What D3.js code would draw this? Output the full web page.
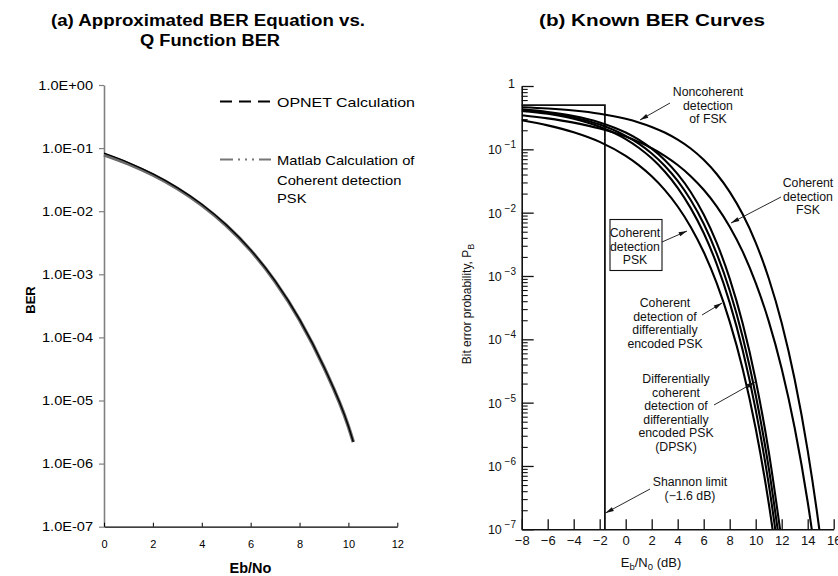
<!DOCTYPE html>
<html>
<head>
<meta charset="utf-8">
<script src="https://cdn.jsdelivr.net/npm/d3@7"></script>
<style>
  body { margin: 0; background: #fff; }
  svg { display: block; font-family: "Liberation Sans", Arial, Helvetica, sans-serif; }
</style>
</head>
<body>
<svg id="chart" width="838" height="576"></svg>
<script>
// ---------- Panel (a): approximated equation vs. Q function ----------
const ebNoA      = [0, 1, 2, 3, 4, 5, 6, 7, 8, 9, 10, 10.2];
const berOpnet   = [0.083, 0.059, 0.039, 0.0237, 0.0129, 0.0061, 0.00244, 7.85e-4, 1.93e-4, 3.4e-5, 3.9e-6, 2.2e-6];
const berMatlab  = [0.0786, 0.0563, 0.0375, 0.0229, 0.0125, 0.00595, 0.00239, 7.7e-4, 1.9e-4, 3.36e-5, 3.87e-6, 2.2e-6];
const xTicksA    = [0, 2, 4, 6, 8, 10, 12];
const yTicksA    = [1, 1e-1, 1e-2, 1e-3, 1e-4, 1e-5, 1e-6, 1e-7];

// ---------- Panel (b): known BER curves ----------
const ebN0B        = [-8, -6, -4, -2, 0, 1, 2, 3, 4, 5, 6, 7, 8, 9, 10, 11, 12, 13, 14, 15, 16];
const berCohPsk    = [0.287, 0.239, 0.186, 0.131, 0.0786, 0.0563, 0.0375, 0.0229, 0.0125, 0.00595, 0.00239, 7.7e-4, 1.9e-4, 3.4e-5, 3.9e-6, 2.6e-7, 9e-9, null, null, null, null];
const berDiffEncPsk= [0.409, 0.364, 0.303, 0.227, 0.145, 0.106, 0.0722, 0.0447, 0.0247, 0.0118, 0.00477, 1.54e-3, 3.8e-4, 6.7e-5, 7.7e-6, 5.2e-7, 1.8e-8, null, null, null, null];
const berMidPsk    = [0.418, 0.376, 0.319, 0.246, 0.163, 0.123, 0.086, 0.0551, 0.0317, 0.0158, 0.00667, 2.26e-3, 5.9e-4, 1.09e-4, 1.32e-5, 9.4e-7, 3.4e-8, null, null, null, null];
const berDpsk      = [0.427, 0.389, 0.336, 0.266, 0.184, 0.142, 0.1025, 0.068, 0.0406, 0.0212, 0.00933, 0.00333, 9.1e-4, 1.78e-4, 2.27e-5, 1.7e-6, 6.5e-8, null, null, null, null];
const berCohFsk    = [0.345, 0.308, 0.264, 0.2135, 0.159, 0.131, 0.104, 0.0789, 0.0565, 0.0377, 0.023, 0.0126, 0.006, 0.00242, 7.8e-4, 1.94e-4, 3.43e-5, 3.97e-6, 2.7e-7, 9.4e-9, null];
const berNoncohFsk = [0.462, 0.441, 0.41, 0.365, 0.303, 0.266, 0.226, 0.184, 0.142, 0.103, 0.0683, 0.0408, 0.0213, 0.00942, 0.00337, 9.2e-4, 1.81e-4, 2.32e-5, 1.75e-6, 6.8e-8, 1.1e-9];
const xTicksB      = [-8, -6, -4, -2, 0, 2, 4, 6, 8, 10, 12, 14, 16];
const yDecadesB    = [0, -1, -2, -3, -4, -5, -6, -7];
const shannonLimit = -1.6;

const svg = d3.select("#chart");
const FONT = '"Liberation Sans", Arial, Helvetica, sans-serif';

// widen a text element horizontally by a factor
function stretch(sel, k) {
  sel.each(function () {
    const w = this.getComputedTextLength();
    d3.select(this).attr("textLength", w * k).attr("lengthAdjust", "spacingAndGlyphs");
  });
}
function fixedWidth(sel, w) {
  sel.attr("textLength", w).attr("lengthAdjust", "spacingAndGlyphs");
}

// ---------- Titles ----------
fixedWidth(svg.append("text").attr("x", 208).attr("y", 26).attr("text-anchor", "middle")
  .attr("font-size", 16).attr("font-weight", "bold").text("(a) Approximated BER Equation vs."), 314);
fixedWidth(svg.append("text").attr("x", 210).attr("y", 46).attr("text-anchor", "middle")
  .attr("font-size", 16).attr("font-weight", "bold").text("Q Function BER"), 140);
fixedWidth(svg.append("text").attr("x", 652).attr("y", 26).attr("text-anchor", "middle")
  .attr("font-size", 16).attr("font-weight", "bold").text("(b) Known BER Curves"), 226);

// ---------- Panel (a) ----------
const xA = d3.scaleLinear().domain([0, 12]).range([104, 397.3]);
const yA = d3.scaleLog().domain([1e-7, 1]).range([526.7, 85]);

const fmtE = d => {
  const e = Math.round(Math.log10(d));
  return "1.0E" + (e < 0 ? "-" : "+") + String(Math.abs(e)).padStart(2, "0");
};

const gYA = svg.append("g")
  .attr("transform", `translate(${xA(0)},0)`)
  .call(d3.axisLeft(yA).tickValues(yTicksA).tickFormat(fmtE)
        .tickSizeInner(5).tickSizeOuter(0).tickPadding(6));
gYA.attr("font-family", FONT).attr("font-size", 13);
gYA.select(".domain").attr("stroke", "#808080").attr("stroke-width", 1.6);
gYA.selectAll(".tick line").attr("stroke", "#808080").attr("stroke-width", 1.2);
gYA.selectAll(".tick text").attr("fill", "#000");
stretch(gYA.selectAll(".tick text"), 1.12);

const gXA = svg.append("g")
  .attr("transform", `translate(0,${yA(1e-7)})`)
  .call(d3.axisBottom(xA).tickValues(xTicksA)
        .tickSizeInner(-4).tickSizeOuter(0).tickPadding(14));
gXA.attr("font-family", FONT).attr("font-size", 11);
gXA.select(".domain").attr("stroke", "#000").attr("stroke-width", 1.2);
gXA.selectAll(".tick line").attr("stroke", "#000");
gXA.selectAll(".tick text").attr("fill", "#000");

svg.append("text").attr("x", 250.5).attr("y", 573).attr("text-anchor", "middle")
  .attr("font-size", 14.5).attr("font-weight", "bold").text("Eb/No");
svg.append("text").attr("transform", "translate(35,300) rotate(-90)").attr("text-anchor", "middle")
  .attr("font-size", 13).attr("font-weight", "bold").text("BER");

const lineA = d3.line()
  .x((d, i) => xA(ebNoA[i]))
  .y(d => yA(d))
  .curve(d3.curveMonotoneX);

svg.append("path").datum(berMatlab).attr("d", lineA)
  .attr("fill", "none").attr("stroke", "#6a6a6a").attr("stroke-width", 3.6);
svg.append("path").datum(berOpnet).attr("d", lineA)
  .attr("fill", "none").attr("stroke", "#000").attr("stroke-width", 1.4);

// Legend
svg.append("line").attr("x1", 220).attr("x2", 271).attr("y1", 101.5).attr("y2", 101.5)
  .attr("stroke", "#000").attr("stroke-width", 2).attr("stroke-dasharray", "12,7");
fixedWidth(svg.append("text").attr("x", 277).attr("y", 106.5).attr("font-size", 13.5).text("OPNET Calculation"), 138);
svg.append("line").attr("x1", 220).attr("x2", 271).attr("y1", 159.5).attr("y2", 159.5)
  .attr("stroke", "#777").attr("stroke-width", 1.8).attr("stroke-dasharray", "13,5,2,5,2,5,2,5,20");
const legMatlab = svg.append("g");
[["Matlab Calculation of", 164.5], ["Coherent detection", 184.5], ["PSK", 203]].forEach(([t, y]) =>
  legMatlab.append("text").attr("x", 277).attr("y", y).attr("font-size", 13.5).text(t));
stretch(legMatlab.selectAll("text"), 1.09);

// ---------- Panel (b) ----------
const xB = d3.scaleLinear().domain([-8, 16]).range([521.7, 833.7]);
const yB = d3.scaleLog().domain([1e-7, 1]).range([529.3, 86]);

const majorB = yDecadesB.map(e => Math.pow(10, e));
const minorB = [];
yDecadesB.slice(1).forEach(e => { for (let m = 2; m <= 9; m++) minorB.push(m * Math.pow(10, e)); });

const gYBminor = svg.append("g").attr("transform", `translate(${xB(-8)},0)`)
  .call(d3.axisLeft(yB).tickValues(minorB).tickFormat("").tickSizeInner(-6).tickSizeOuter(0));
gYBminor.select(".domain").remove();
gYBminor.selectAll(".tick line").attr("stroke", "#111").attr("stroke-width", 1.1);

const gYB = svg.append("g").attr("transform", `translate(${xB(-8)},0)`)
  .call(d3.axisLeft(yB).tickValues(majorB).tickFormat("").tickSizeInner(-12).tickSizeOuter(0));
gYB.select(".domain").attr("stroke", "#111").attr("stroke-width", 1.6);
gYB.selectAll(".tick line").attr("stroke", "#111").attr("stroke-width", 1.3);

// decade labels with superscript exponents
yDecadesB.forEach(e => {
  const t = svg.append("text").attr("y", yB(Math.pow(10, e)) + 5)
    .attr("font-size", 12.5).attr("fill", "#111").attr("text-anchor", "end");
  if (e === 0) {
    t.attr("x", 515).attr("y", yB(1) + 2).text("1");
  } else {
    t.attr("x", 516);
    t.append("tspan").text("10");
    t.append("tspan").attr("font-size", 10).attr("dy", -6).text(" \u2212" + (-e));
  }
});

const gXB = svg.append("g").attr("transform", `translate(0,${yB(1e-7)})`)
  .call(d3.axisBottom(xB).tickValues(xTicksB)
        .tickFormat(d => d < 0 ? "\u2212" + (-d) : String(d))
        .tickSizeInner(-10).tickSizeOuter(0).tickPadding(6));
gXB.attr("font-family", FONT).attr("font-size", 13);
gXB.select(".domain").attr("stroke", "#111").attr("stroke-width", 1.6);
gXB.selectAll(".tick line").attr("stroke", "#111").attr("stroke-width", 1.3);
gXB.selectAll(".tick text").attr("fill", "#111");

// axis titles
const xt = svg.append("text").attr("x", 651).attr("y", 567).attr("text-anchor", "middle")
  .attr("font-size", 13).attr("fill", "#111");
xt.append("tspan").text("E");
xt.append("tspan").attr("font-size", 9.5).attr("dy", 3).text("b");
xt.append("tspan").attr("dy", -3).text("/N");
xt.append("tspan").attr("font-size", 9.5).attr("dy", 3).text("0");
xt.append("tspan").attr("dy", -3).text(" (dB)");

const yt = svg.append("text").attr("transform", "translate(471,304) rotate(-90)")
  .attr("text-anchor", "middle").attr("font-size", 12).attr("fill", "#111");
yt.append("tspan").text("Bit error probability, P");
yt.append("tspan").attr("font-size", 9).attr("dy", 3).text("B");

// Shannon limit box: P = 0.5 ceiling and vertical line at -1.6 dB
svg.append("path")
  .attr("d", `M${xB(-8)},${yB(0.5)}H${xB(shannonLimit)}V${yB(1e-7)}`)
  .attr("fill", "none").attr("stroke", "#111").attr("stroke-width", 1.8);

// BER curves
svg.append("clipPath").attr("id", "clipB").append("rect")
  .attr("x", xB(-8)).attr("y", yB(1)).attr("width", xB(16) - xB(-8)).attr("height", yB(1e-7) - yB(1));

const lineB = d3.line()
  .defined(d => d != null)
  .x((d, i) => xB(ebN0B[i]))
  .y(d => yB(d))
  .curve(d3.curveMonotoneX);

const curvesB = [berCohPsk, berDiffEncPsk, berMidPsk, berDpsk, berCohFsk, berNoncohFsk];
svg.append("g").attr("clip-path", "url(#clipB)")
  .selectAll("path").data(curvesB).join("path")
  .attr("d", lineB).attr("fill", "none").attr("stroke", "#000").attr("stroke-width", 2.1);

// annotations
const defs = svg.append("defs");
defs.append("marker").attr("id", "arr").attr("viewBox", "0 0 10 6")
  .attr("refX", 10).attr("refY", 3).attr("markerWidth", 10).attr("markerHeight", 5)
  .attr("markerUnits", "userSpaceOnUse").attr("orient", "auto")
  .append("path").attr("d", "M0,0.4L10,3L0,5.6Z").attr("fill", "#111");

const notes = [
  { x: 708, y: 96, lines: ["Noncoherent", "detection", "of FSK"], from: [670, 103], to: [640, 120] },
  { x: 808, y: 187, lines: ["Coherent", "detection", "FSK"], from: [781, 197], to: [731, 223] },
  { x: 635, y: 237, lines: ["Coherent", "detection", "PSK"], from: [662, 242], to: [687, 231] },
  { x: 665, y: 307, lines: ["Coherent", "detection of", "differentially", "encoded PSK"], from: [702, 315], to: [722, 303] },
  { x: 676, y: 383, lines: ["Differentially", "coherent", "detection of", "differentially", "encoded PSK", "(DPSK)"], from: [714, 405], to: [755, 382] },
  { x: 690, y: 486, lines: ["Shannon limit", "(\u22121.6 dB)"], from: [650, 489], to: [605.5, 513] }
];
notes.forEach(n => {
  n.lines.forEach((t, i) => {
    svg.append("text").attr("x", n.x).attr("y", n.y + i * 13.6).attr("text-anchor", "middle")
      .attr("font-size", 12.3).attr("fill", "#111").text(t);
  });
  svg.append("line").attr("x1", n.from[0]).attr("y1", n.from[1]).attr("x2", n.to[0]).attr("y2", n.to[1])
    .attr("stroke", "#111").attr("stroke-width", 0.9).attr("marker-end", "url(#arr)");
});
// frame around the coherent PSK label
svg.append("rect").attr("x", 610).attr("y", 219.5).attr("width", 52).attr("height", 51)
  .attr("fill", "none").attr("stroke", "#111").attr("stroke-width", 1.1);
</script>
</body>
</html>
